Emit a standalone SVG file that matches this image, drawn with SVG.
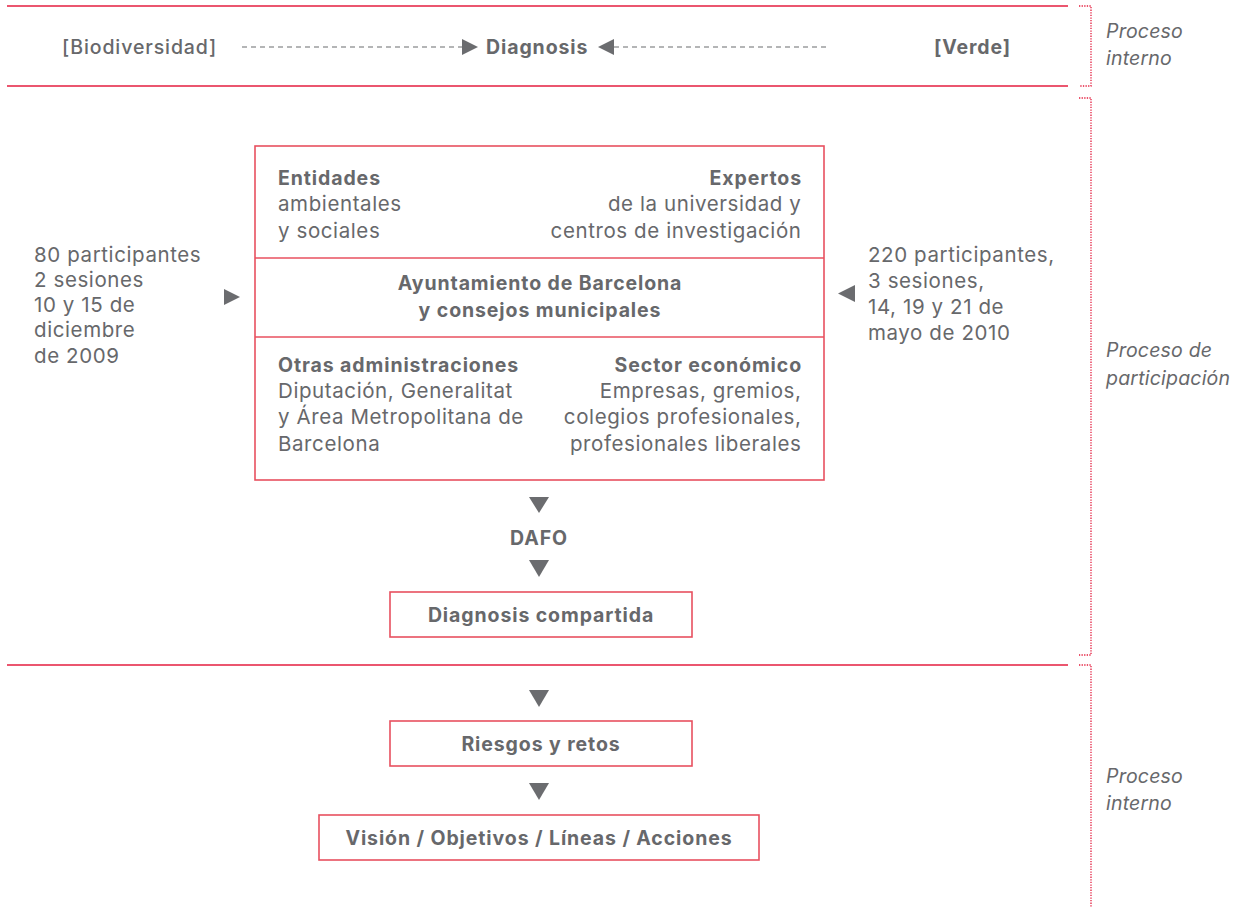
<svg xmlns="http://www.w3.org/2000/svg" width="1243" height="907" viewBox="0 0 1243 907">
<style>
.t{font-family:Inter,"Noto Sans","Liberation Sans",sans-serif;fill:#67686b;font-size:20.5px;letter-spacing:0.6px}
.b{font-family:Inter,"Noto Sans","Liberation Sans",sans-serif;fill:#67686b;font-size:19.5px;font-weight:bold;letter-spacing:0.9px}
.md{font-weight:500}
.i{font-family:Inter,"Noto Sans","Liberation Sans",sans-serif;fill:#67686b;font-size:19.5px;font-style:italic;letter-spacing:0.2px}
.box{fill:none;stroke:#e8505f;stroke-width:1.6}
.sep{stroke:#e41e3f;stroke-width:1.6}
.dot{stroke:#e41e3f;stroke-width:1.3;stroke-dasharray:1.3 1.3;fill:none}
.dash{stroke:#6b6c6f;stroke-width:1.2;stroke-dasharray:5 4}
.ar{fill:#6b6c6f}
.r{text-anchor:end}
.m{text-anchor:middle}
</style>
<g id="bands">
<line class="sep" x1="7" y1="6" x2="1068" y2="6"/>
<line class="sep" x1="7" y1="86" x2="1068" y2="86"/>
<line class="sep" x1="7" y1="665" x2="1068" y2="665"/>
<path class="dot" d="M1079 6H1091V86H1079"/>
<path class="dot" d="M1079 98H1091V655H1079"/>
<path class="dot" d="M1079 665H1091V907"/>
<text class="i" x="1106" y="38">Proceso</text>
<text class="i" x="1106" y="65">interno</text>
<text class="i" x="1106" y="357">Proceso de</text>
<text class="i" x="1106" y="385">participación</text>
<text class="i" x="1106" y="783">Proceso</text>
<text class="i" x="1106" y="810">interno</text>
</g>
<g id="connectors">
<line class="dash" x1="242" y1="47" x2="462" y2="47"/>
<polygon class="ar" points="462,39 478,47 462,55"/>
<line class="dash" x1="614" y1="47" x2="826" y2="47"/>
<polygon class="ar" points="614,39 598,47 614,55"/>
<polygon class="ar" points="224,289 240,297 224,305"/>
<polygon class="ar" points="855,285 838,293.5 855,302"/>
<polygon class="ar" points="529,497 549,497 539,513"/>
<polygon class="ar" points="529,560 549,560 539,577"/>
<polygon class="ar" points="529,690 549,690 539,707"/>
<polygon class="ar" points="529,783 549,783 539,800"/>
</g>
<g id="biodiversidad"><text class="b md" x="62" y="54">[Biodiversidad]</text></g>
<g id="diagnosis"><text class="b" x="486" y="54">Diagnosis</text></g>
<g id="verde"><text class="b r" x="1011" y="54">[Verde]</text></g>
<g id="left-info">
<text class="t" x="34" y="262">80 participantes</text>
<text class="t" x="34" y="287">2 sesiones</text>
<text class="t" x="34" y="312">10 y 15 de</text>
<text class="t" x="34" y="337">diciembre</text>
<text class="t" x="34" y="363">de 2009</text>
</g>
<g id="right-info">
<text class="t" x="868" y="262">220 participantes,</text>
<text class="t" x="868" y="288">3 sesiones,</text>
<text class="t" x="868" y="314">14, 19 y 21 de</text>
<text class="t" x="868" y="340">mayo de 2010</text>
</g>
<g id="participants">
<rect class="box" x="255" y="146" width="569" height="334"/>
<line class="box" x1="255" y1="258" x2="824" y2="258"/>
<line class="box" x1="255" y1="337" x2="824" y2="337"/>
<text class="b" x="278" y="185">Entidades</text>
<text class="t" x="278" y="211">ambientales</text>
<text class="t" x="278" y="238">y sociales</text>
<text class="b r" x="802" y="185">Expertos</text>
<text class="t r" x="801.5" y="211">de la universidad y</text>
<text class="t r" x="801.5" y="238">centros de investigación</text>
<text class="b m" x="540" y="290">Ayuntamiento de Barcelona</text>
<text class="b m" x="540" y="317">y consejos municipales</text>
<text class="b" x="278" y="372">Otras administraciones</text>
<text class="t" x="278" y="398">Diputación, Generalitat</text>
<text class="t" x="278" y="424">y Área Metropolitana de</text>
<text class="t" x="278" y="451">Barcelona</text>
<text class="b r" x="802" y="372">Sector económico</text>
<text class="t r" x="801.5" y="398">Empresas, gremios,</text>
<text class="t r" x="801.5" y="424">colegios profesionales,</text>
<text class="t r" x="801.5" y="451">profesionales liberales</text>
</g>
<g id="dafo"><text class="b m" x="539" y="545">DAFO</text></g>
<g id="diagnosis-compartida">
<rect class="box" x="390" y="592" width="302" height="45"/>
<text class="b m" x="541" y="622">Diagnosis compartida</text>
</g>
<g id="riesgos">
<rect class="box" x="390" y="721" width="302" height="45"/>
<text class="b m" x="541" y="751">Riesgos y retos</text>
</g>
<g id="vision">
<rect class="box" x="319" y="815" width="440" height="45"/>
<text class="b m" x="539" y="845">Visión / Objetivos / Líneas / Acciones</text>
</g>
</svg>
